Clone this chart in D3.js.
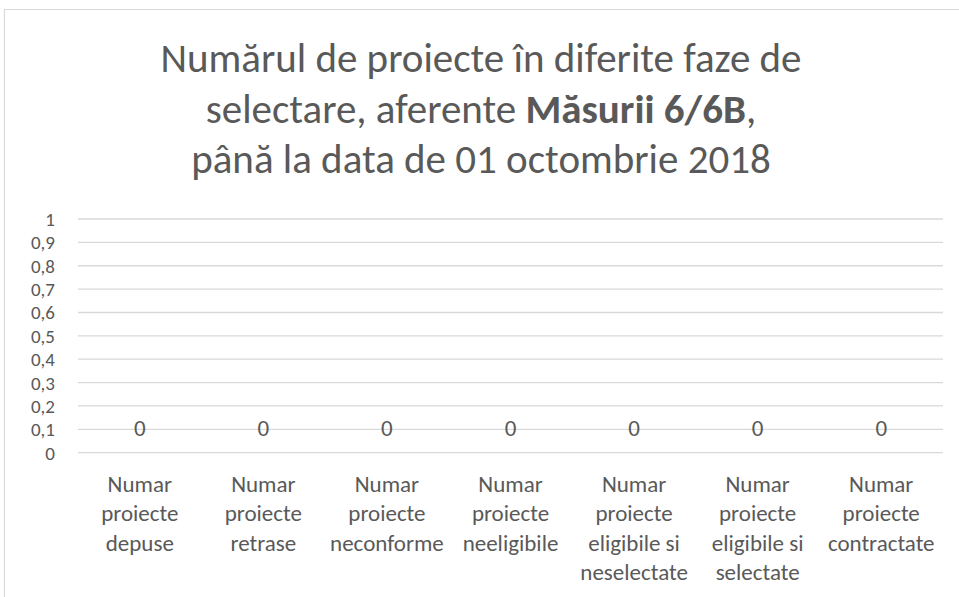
<!DOCTYPE html>
<html>
<head>
<meta charset="utf-8">
<script src="https://cdn.jsdelivr.net/npm/d3@7"></script>
<style>
  html, body { margin: 0; padding: 0; background: #fff; }
  svg { display: block; }
  text { font-family: Carlito, Calibri, Lato, "Open Sans", sans-serif; fill: #595959; }
</style>
</head>
<body>
<svg id="chart" width="959" height="597"></svg>
<script>
// ---- data ----
const categories = [
  "Numar proiecte depuse",
  "Numar proiecte retrase",
  "Numar proiecte neconforme",
  "Numar proiecte neeligibile",
  "Numar proiecte eligibile si neselectate",
  "Numar proiecte eligibile si selectate",
  "Numar proiecte contractate"
];
const categoryLines = [
  ["Numar", "proiecte", "depuse"],
  ["Numar", "proiecte", "retrase"],
  ["Numar", "proiecte", "neconforme"],
  ["Numar", "proiecte", "neeligibile"],
  ["Numar", "proiecte", "eligibile si", "neselectate"],
  ["Numar", "proiecte", "eligibile si", "selectate"],
  ["Numar", "proiecte", "contractate"]
];
const values = [0, 0, 0, 0, 0, 0, 0];
const yTicks = [0, 0.1, 0.2, 0.3, 0.4, 0.5, 0.6, 0.7, 0.8, 0.9, 1];
const titleLines = [
  [{ t: "Numărul de proiecte în diferite faze de", b: false }],
  [{ t: "selectare, aferente ", b: false }, { t: "Măsurii 6/6B", b: true }, { t: ",", b: false }],
  [{ t: "până la data de 01 octombrie 2018", b: false }]
];

// ---- layout ----
const svg = d3.select("#chart");
const W = 959, H = 597;
const plot = { left: 78, right: 943, top: 219, bottom: 452.7 };

// chart area border (top + left visible)
svg.append("path")
  .attr("d", `M4.5,${H} L4.5,9.5 L${W},9.5`)
  .attr("fill", "none")
  .attr("stroke", "#d9d9d9")
  .attr("stroke-width", 1.2);

// title
const title = svg.append("text")
  .attr("text-anchor", "middle")
  .style("font-size", "41px");
const titleBase = [72, 123, 173];
titleLines.forEach((parts, i) => {
  const line = title.append("tspan").attr("x", 481).attr("y", titleBase[i]);
  parts.forEach(p => {
    line.append("tspan").text(p.t).style("font-weight", p.b ? "bold" : "normal");
  });
});

const x = d3.scaleBand()
  .domain(categories)
  .range([plot.left, plot.right])
  .paddingInner(0.4)
  .paddingOuter(0.2);

const y = d3.scaleLinear()
  .domain([0, 1])
  .range([plot.bottom, plot.top]);

// gridlines
svg.append("g")
  .selectAll("line")
  .data(yTicks)
  .join("line")
  .attr("x1", plot.left)
  .attr("x2", plot.right)
  .attr("y1", d => y(d))
  .attr("y2", d => y(d))
  .attr("stroke", "#d9d9d9")
  .attr("stroke-width", 1.3);

// y axis labels
const yAxis = d3.axisLeft(y)
  .tickValues(yTicks)
  .tickSize(0)
  .tickPadding(0)
  .tickFormat(d => d3.format(".1~f")(d).replace(".", ","));
const yg = svg.append("g")
  .attr("transform", `translate(55,0)`)
  .call(yAxis);
yg.select(".domain").remove();
yg.selectAll("text")
  .style("font-size", "19px")
  .style("fill", "#595959")
  .attr("font-family", null)
  .attr("dy", "0.34em");

// bars (zero height)
svg.append("g")
  .selectAll("rect")
  .data(values)
  .join("rect")
  .attr("x", (d, i) => x(categories[i]))
  .attr("width", x.bandwidth())
  .attr("y", d => y(d))
  .attr("height", d => y(0) - y(d))
  .attr("fill", "#4472c4");

// data labels
svg.append("g")
  .selectAll("text")
  .data(values)
  .join("text")
  .attr("x", (d, i) => x(categories[i]) + x.bandwidth() / 2)
  .attr("y", d => y(d) - 17)
  .attr("text-anchor", "middle")
  .style("font-size", "23px")
  .text(d => d3.format("d")(d));

// category labels
const cg = svg.append("g");
categories.forEach((c, i) => {
  const t = cg.append("text")
    .attr("text-anchor", "middle")
    .style("font-size", "23px");
  categoryLines[i].forEach((ln, j) => {
    t.append("tspan")
      .attr("x", x(c) + x.bandwidth() / 2)
      .attr("y", 491.7 + j * 29.5)
      .text(ln);
  });
});
</script>
</body>
</html>
